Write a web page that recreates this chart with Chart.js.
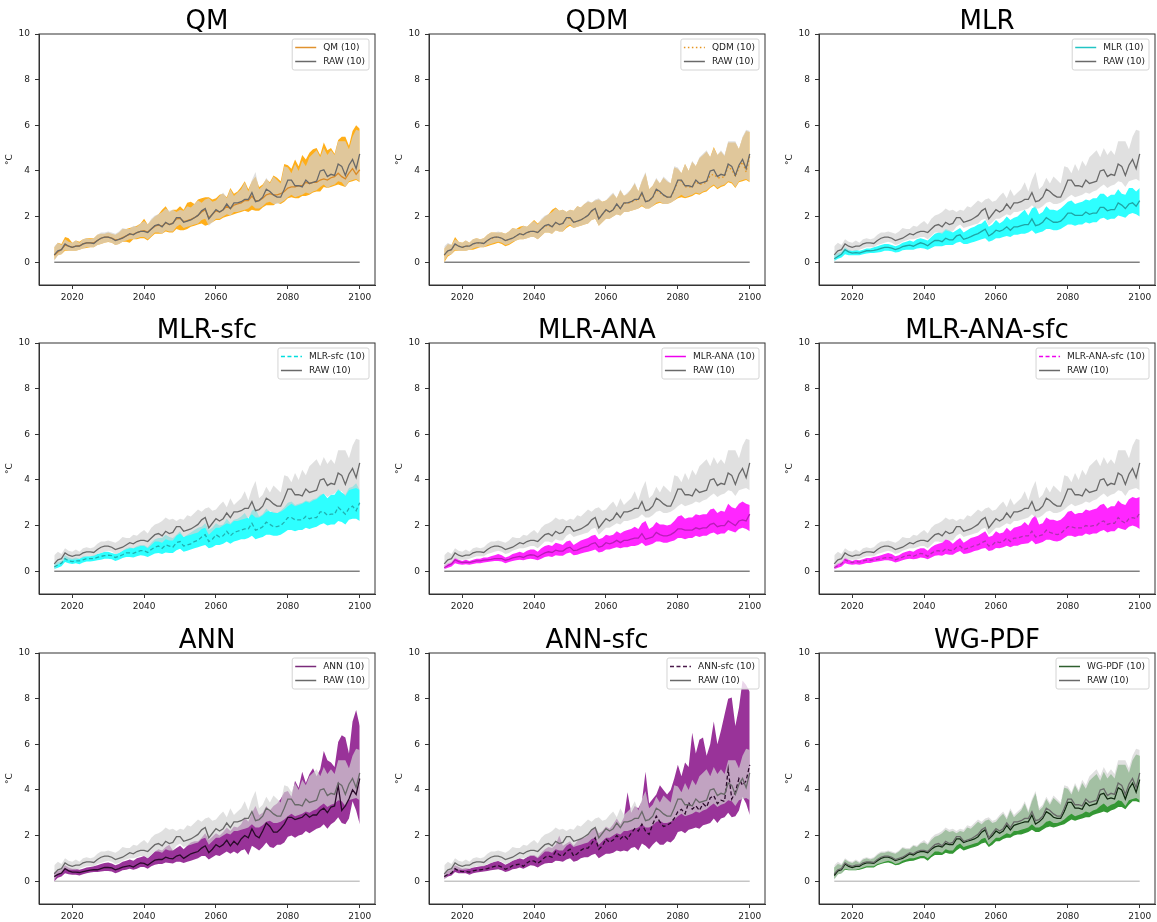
<!DOCTYPE html>
<html>
<head>
<meta charset="utf-8">
<script src="https://cdn.jsdelivr.net/npm/chart.js@4.4.1/dist/chart.umd.min.js"></script>
<style>
  html, body { margin: 0; padding: 0; background: #fff; overflow: hidden; }
  #wrap { position: relative; width: 1157px; height: 922px; }
  #wrap canvas { position: absolute; }
</style>
</head>
<body>
<div id="wrap"></div>
<script>
// years 2015..2100 (x categories)
const years = [];
for (let y = 2015; y <= 2100; y++) years.push(y);

const xTicks = [2020, 2040, 2060, 2080, 2100];
const yTicks = [0, 2, 4, 6, 8, 10];
const baseline = [0, 0];

// RAW ensemble (shown in every panel)
const rawMean = [0.32,0.5,0.55,0.8,0.7,0.65,0.7,0.7,0.8,0.85,
  0.85,0.82,0.95,1.05,1.1,1.1,1.05,0.95,1.0,1.05,
  1.15,1.25,1.2,1.3,1.35,1.35,1.3,1.45,1.6,1.65,
  1.55,1.75,1.65,1.7,1.95,1.95,1.75,1.8,1.85,1.95,
  2.05,2.25,2.35,1.9,2.1,2.3,2.2,2.3,2.55,2.35,
  2.6,2.6,2.65,2.75,2.75,3.05,2.65,2.7,2.85,3.2,
  3.1,2.95,2.85,2.85,3.2,3.6,3.6,3.35,3.35,3.3,
  3.6,3.45,3.5,3.55,4.0,4.05,3.75,3.85,3.8,4.3,
  4.2,3.8,4.25,4.5,4.1,4.75];
const rawHi = [0.7,0.85,0.75,1.0,0.9,0.85,0.95,0.85,1.0,1.05,
  1.0,1.05,1.2,1.3,1.3,1.35,1.3,1.25,1.35,1.5,
  1.45,1.45,1.6,1.55,1.7,1.8,1.65,1.9,2.05,2.1,
  2.2,2.35,2.25,2.3,2.2,2.3,2.25,2.45,2.4,2.55,
  2.7,2.6,2.75,2.8,2.65,2.7,2.9,3.05,2.8,3.2,
  2.9,3.05,3.2,3.5,3.1,3.6,3.95,3.2,3.35,3.7,
  3.45,3.75,3.6,3.45,4.2,4.15,3.9,4.3,4.0,4.45,
  4.2,4.6,4.75,4.9,4.6,5.0,4.7,4.9,4.7,5.3,
  5.3,5.3,4.95,5.5,5.8,5.75];
const rawLo = [0.05,0.3,0.35,0.55,0.5,0.5,0.5,0.55,0.6,0.65,
  0.65,0.65,0.75,0.8,0.85,0.9,0.85,0.75,0.8,0.9,
  0.95,1.0,1.0,1.05,1.1,1.1,1.0,1.15,1.3,1.3,
  1.25,1.4,1.35,1.35,1.55,1.65,1.5,1.55,1.6,1.65,
  1.7,1.85,1.9,1.6,1.75,1.9,1.9,2.0,2.1,2.05,
  2.2,2.2,2.25,2.3,2.35,2.5,2.35,2.35,2.45,2.6,
  2.65,2.55,2.55,2.6,2.7,2.85,2.95,2.85,2.9,2.95,
  3.05,3.0,3.1,3.15,3.3,3.4,3.25,3.35,3.4,3.55,
  3.5,3.3,3.55,3.6,3.65,3.55];

// QM
const qmMean = [0.3,0.45,0.55,0.75,0.7,0.65,0.7,0.72,0.8,0.85,
  0.85,0.85,0.95,1.05,1.1,1.1,1.05,0.98,1.0,1.08,
  1.15,1.22,1.22,1.3,1.35,1.38,1.32,1.45,1.58,1.62,
  1.58,1.72,1.65,1.72,1.9,1.92,1.78,1.82,1.88,1.95,
  2.05,2.2,2.3,1.95,2.1,2.25,2.2,2.3,2.45,2.35,
  2.5,2.55,2.6,2.7,2.7,2.9,2.7,2.7,2.8,2.95,
  3.0,2.95,2.95,3.0,3.1,3.25,3.3,3.3,3.35,3.35,
  3.5,3.45,3.5,3.5,3.6,3.65,3.6,3.7,3.75,3.9,
  3.75,3.65,3.9,4.1,3.85,4.05];
const qmHi = [0.65,0.85,0.8,1.1,1.05,0.85,0.95,0.9,1.0,1.05,
  1.05,1.05,1.2,1.25,1.25,1.3,1.25,1.2,1.3,1.45,
  1.45,1.5,1.55,1.6,1.7,1.9,1.65,1.85,2.0,2.1,
  2.3,2.45,2.2,2.3,2.3,2.45,2.3,2.6,2.65,2.55,
  2.75,2.8,2.85,2.85,2.75,2.8,2.95,3.0,2.85,3.25,
  3.0,3.1,3.3,3.55,3.2,3.55,3.75,3.3,3.4,3.65,
  3.5,3.8,3.7,3.55,4.3,4.25,4.1,4.5,4.2,4.7,
  4.5,4.8,4.95,5.0,4.7,5.25,4.9,5.0,4.75,5.35,
  5.5,5.5,5.1,5.75,6.0,5.85];
const qmLo = [0.1,0.3,0.35,0.5,0.5,0.5,0.5,0.55,0.6,0.62,
  0.65,0.65,0.75,0.8,0.85,0.88,0.85,0.75,0.8,0.9,
  0.9,0.85,1.0,1.0,1.05,1.05,0.95,1.1,1.25,1.25,
  1.25,1.35,1.3,1.3,1.45,1.4,1.4,1.45,1.55,1.6,
  1.65,1.7,1.6,1.65,1.75,1.85,1.85,1.95,2.0,2.05,
  2.1,2.15,2.2,2.25,2.2,2.3,2.25,2.25,2.4,2.5,
  2.5,2.5,2.6,2.55,2.65,2.8,2.85,2.8,2.8,2.9,
  2.9,2.95,3.05,3.1,3.1,3.3,3.25,3.3,3.35,3.4,
  3.35,3.3,3.5,3.55,3.6,3.5];

// QDM
const qdmMean = [0.3,0.5,0.55,0.78,0.7,0.65,0.7,0.7,0.8,0.85,
  0.85,0.82,0.95,1.03,1.1,1.1,1.05,0.95,1.0,1.05,
  1.15,1.25,1.2,1.3,1.35,1.35,1.3,1.45,1.58,1.62,
  1.55,1.72,1.65,1.7,1.92,1.92,1.75,1.8,1.85,1.95,
  2.05,2.22,2.32,1.9,2.1,2.28,2.2,2.3,2.5,2.35,
  2.58,2.58,2.62,2.72,2.72,3.0,2.65,2.7,2.82,3.15,
  3.05,2.92,2.85,2.85,3.15,3.55,3.55,3.3,3.3,3.28,
  3.55,3.4,3.45,3.5,3.8,3.85,3.7,3.7,3.75,4.2,
  4.05,3.75,4.15,4.4,3.95,4.65];
const qdmHi = [0.6,0.8,0.75,1.1,0.9,0.85,0.95,0.85,1.0,1.05,
  1.0,1.05,1.2,1.3,1.3,1.3,1.3,1.25,1.35,1.5,
  1.45,1.55,1.6,1.55,1.7,1.85,1.7,1.85,2.0,2.1,
  2.3,2.4,2.25,2.3,2.2,2.3,2.25,2.45,2.4,2.55,
  2.65,2.6,2.7,2.75,2.65,2.7,2.85,3.0,2.8,3.15,
  2.9,3.0,3.2,3.45,3.1,3.55,3.9,3.2,3.35,3.65,
  3.45,3.7,3.55,3.45,4.15,4.1,3.9,4.3,4.0,4.4,
  4.2,4.55,4.7,4.85,4.6,5.05,4.7,4.85,4.65,5.25,
  5.25,5.25,4.95,5.45,5.75,5.7];
const qdmLo = [0.0,0.25,0.35,0.5,0.5,0.5,0.5,0.55,0.55,0.6,
  0.65,0.65,0.7,0.75,0.8,0.85,0.8,0.7,0.75,0.85,
  0.95,1.0,1.0,1.05,1.1,1.1,1.0,1.15,1.3,1.3,
  1.25,1.4,1.35,1.35,1.5,1.6,1.5,1.55,1.6,1.65,
  1.7,1.85,1.9,1.6,1.75,1.9,1.9,2.0,2.1,2.05,
  2.2,2.2,2.25,2.3,2.35,2.45,2.35,2.35,2.45,2.55,
  2.6,2.55,2.55,2.6,2.7,2.8,2.85,2.8,2.85,2.9,
  3.0,2.95,3.05,3.1,3.25,3.35,3.2,3.3,3.35,3.5,
  3.45,3.25,3.5,3.55,3.6,3.5];

// MLR
const mlrMean = [0.15,0.25,0.35,0.55,0.45,0.4,0.42,0.4,0.45,0.5,
  0.5,0.52,0.55,0.6,0.65,0.65,0.62,0.55,0.6,0.68,
  0.72,0.75,0.7,0.78,0.85,0.8,0.72,0.85,0.95,0.95,
  0.9,1.05,0.98,0.98,1.15,1.2,1.0,1.05,1.12,1.2,
  1.25,1.35,1.45,1.15,1.25,1.4,1.35,1.42,1.55,1.4,
  1.55,1.55,1.6,1.65,1.65,1.9,1.6,1.65,1.75,1.95,
  1.85,1.75,1.75,1.8,1.95,2.15,2.15,2.05,2.05,2.05,
  2.2,2.1,2.15,2.15,2.4,2.4,2.25,2.3,2.3,2.6,
  2.5,2.35,2.55,2.6,2.45,2.7];
const mlrHi = [0.3,0.4,0.45,0.65,0.55,0.5,0.55,0.5,0.55,0.6,
  0.6,0.65,0.7,0.75,0.8,0.8,0.75,0.7,0.75,0.85,
  0.9,0.95,0.9,1.0,1.05,1.0,0.95,1.1,1.25,1.3,
  1.3,1.45,1.4,1.3,1.4,1.5,1.3,1.4,1.5,1.55,
  1.65,1.7,1.85,1.55,1.65,1.85,1.7,1.8,2.0,1.85,
  1.95,2.0,2.15,2.3,2.05,2.35,2.45,2.1,2.2,2.45,
  2.3,2.3,2.25,2.35,2.5,2.65,2.7,2.55,2.6,2.65,
  2.75,2.7,2.8,2.8,3.0,3.0,2.85,2.95,2.95,3.2,
  3.0,2.95,3.25,3.25,3.1,3.25];
const mlrLo = [0.05,0.15,0.2,0.35,0.3,0.3,0.3,0.3,0.35,0.38,
  0.4,0.4,0.42,0.45,0.5,0.5,0.48,0.42,0.45,0.52,
  0.55,0.55,0.55,0.6,0.62,0.6,0.55,0.62,0.7,0.7,
  0.7,0.75,0.75,0.75,0.85,0.9,0.8,0.8,0.85,0.9,
  0.95,1.0,1.05,0.9,0.95,1.05,1.05,1.1,1.15,1.1,
  1.2,1.2,1.25,1.25,1.3,1.4,1.25,1.3,1.35,1.45,
  1.45,1.4,1.4,1.45,1.55,1.65,1.65,1.6,1.65,1.65,
  1.75,1.7,1.75,1.75,1.9,1.95,1.85,1.9,1.9,2.05,
  2.0,1.95,2.1,2.15,2.1,2.0];

// MLR-sfc
const mlrSfcMean = [0.18,0.28,0.35,0.55,0.45,0.42,0.45,0.45,0.5,0.55,
  0.55,0.55,0.6,0.65,0.68,0.7,0.68,0.6,0.65,0.72,
  0.8,0.8,0.78,0.85,0.9,0.9,0.82,0.95,1.05,1.1,
  1.0,1.15,1.1,1.05,1.25,1.3,1.1,1.15,1.2,1.3,
  1.35,1.5,1.6,1.3,1.4,1.6,1.5,1.55,1.75,1.55,
  1.7,1.75,1.8,1.85,1.85,2.1,1.8,1.85,1.95,2.15,
  2.05,1.95,1.95,2.0,2.15,2.35,2.35,2.25,2.25,2.25,
  2.4,2.3,2.35,2.35,2.6,2.6,2.45,2.5,2.5,2.8,
  2.65,2.5,2.75,2.85,2.65,3.0];
const mlrSfcHi = [0.3,0.4,0.45,0.7,0.6,0.55,0.6,0.55,0.65,0.65,
  0.65,0.7,0.75,0.8,0.85,0.85,0.8,0.75,0.8,0.9,
  1.0,1.05,1.0,1.1,1.15,1.15,1.05,1.25,1.4,1.45,
  1.45,1.6,1.5,1.45,1.6,1.75,1.5,1.6,1.7,1.8,
  1.9,1.95,2.1,1.8,1.9,2.1,2.0,2.05,2.3,2.1,
  2.25,2.3,2.4,2.55,2.3,2.65,2.75,2.4,2.5,2.75,
  2.6,2.6,2.55,2.65,2.8,3.0,3.05,2.9,2.95,3.0,
  3.1,3.05,3.15,3.2,3.35,3.4,3.2,3.35,3.35,3.6,
  3.45,3.35,3.65,3.7,3.85,3.55];
const mlrSfcLo = [0.1,0.15,0.22,0.4,0.35,0.32,0.35,0.3,0.38,0.42,
  0.42,0.45,0.48,0.5,0.55,0.55,0.52,0.45,0.5,0.58,
  0.62,0.62,0.6,0.65,0.7,0.68,0.62,0.7,0.78,0.8,
  0.75,0.82,0.8,0.8,0.92,0.98,0.85,0.9,0.95,1.0,
  1.05,1.1,1.15,1.0,1.05,1.15,1.15,1.2,1.3,1.2,
  1.3,1.35,1.4,1.4,1.45,1.55,1.4,1.45,1.5,1.6,
  1.6,1.55,1.55,1.6,1.7,1.8,1.8,1.75,1.8,1.8,
  1.9,1.85,1.9,1.95,2.05,2.1,2.0,2.05,2.05,2.2,
  2.15,2.05,2.25,2.3,2.3,2.2];

// MLR-ANA
const mlrAnaMean = [0.15,0.25,0.32,0.5,0.42,0.38,0.4,0.38,0.42,0.45,
  0.45,0.48,0.5,0.52,0.55,0.55,0.55,0.48,0.52,0.58,
  0.62,0.65,0.6,0.68,0.72,0.7,0.62,0.72,0.8,0.85,
  0.82,0.92,0.88,0.88,1.0,1.05,0.9,0.92,1.0,1.05,
  1.1,1.2,1.25,1.05,1.1,1.25,1.2,1.25,1.35,1.25,
  1.35,1.35,1.4,1.45,1.45,1.65,1.4,1.45,1.5,1.7,
  1.6,1.55,1.55,1.6,1.7,1.85,1.85,1.8,1.8,1.8,
  1.9,1.85,1.9,1.9,2.05,2.1,1.95,2.0,2.0,2.2,
  2.1,2.0,2.2,2.25,2.2,2.5];
const mlrAnaHi = [0.25,0.35,0.4,0.6,0.5,0.45,0.5,0.45,0.5,0.55,
  0.55,0.6,0.6,0.65,0.7,0.75,0.7,0.6,0.65,0.75,
  0.8,0.85,0.8,0.9,0.95,0.95,0.85,1.0,1.1,1.15,
  1.1,1.25,1.2,1.15,1.3,1.35,1.15,1.25,1.35,1.4,
  1.45,1.55,1.6,1.4,1.45,1.6,1.55,1.6,1.75,1.65,
  1.75,1.8,1.85,1.95,1.85,2.1,2.2,1.85,1.95,2.15,
  2.05,2.05,2.0,2.05,2.2,2.4,2.45,2.3,2.35,2.35,
  2.5,2.45,2.5,2.5,2.7,2.75,2.55,2.65,2.6,2.95,
  2.8,2.75,2.95,3.05,2.95,2.9];
const mlrAnaLo = [0.08,0.15,0.2,0.35,0.3,0.28,0.3,0.28,0.32,0.35,
  0.35,0.38,0.4,0.42,0.45,0.45,0.42,0.35,0.4,0.45,
  0.48,0.5,0.48,0.52,0.55,0.52,0.48,0.55,0.62,0.65,
  0.62,0.7,0.68,0.68,0.78,0.82,0.7,0.72,0.78,0.82,
  0.85,0.9,0.95,0.82,0.85,0.95,0.95,1.0,1.05,1.0,
  1.05,1.05,1.1,1.1,1.15,1.25,1.1,1.15,1.2,1.3,
  1.3,1.25,1.25,1.3,1.35,1.45,1.45,1.4,1.45,1.45,
  1.55,1.5,1.55,1.55,1.65,1.7,1.6,1.65,1.65,1.8,
  1.75,1.7,1.85,1.9,1.85,1.75];

// MLR-ANA-sfc
const mlrAnaSfcMean = [0.15,0.25,0.32,0.5,0.42,0.38,0.42,0.4,0.45,0.48,
  0.48,0.5,0.52,0.55,0.58,0.6,0.58,0.5,0.55,0.62,
  0.68,0.7,0.65,0.72,0.78,0.75,0.65,0.78,0.88,0.9,
  0.85,0.98,0.92,0.9,1.05,1.1,0.95,1.0,1.05,1.12,
  1.15,1.25,1.32,1.1,1.15,1.3,1.25,1.3,1.45,1.3,
  1.45,1.45,1.5,1.55,1.55,1.75,1.5,1.55,1.6,1.8,
  1.7,1.65,1.6,1.65,1.8,1.95,1.95,1.9,1.9,1.9,
  2.0,1.95,2.0,2.0,2.15,2.2,2.05,2.1,2.1,2.35,
  2.2,2.1,2.3,2.35,2.3,2.55];
const mlrAnaSfcHi = [0.25,0.35,0.4,0.6,0.5,0.45,0.5,0.48,0.52,0.58,
  0.58,0.62,0.65,0.7,0.75,0.8,0.75,0.65,0.7,0.8,
  0.85,0.9,0.85,0.95,1.0,1.0,0.9,1.05,1.15,1.2,
  1.25,1.4,1.35,1.2,1.35,1.45,1.25,1.35,1.45,1.5,
  1.55,1.65,1.75,1.5,1.55,1.75,1.65,1.7,1.9,1.75,
  1.9,1.95,2.0,2.15,2.0,2.3,2.45,2.05,2.1,2.35,
  2.25,2.25,2.2,2.25,2.4,2.6,2.65,2.5,2.55,2.55,
  2.7,2.65,2.7,2.75,2.9,2.95,2.75,2.85,2.85,3.1,
  2.95,2.9,3.15,3.25,3.2,3.25];
const mlrAnaSfcLo = [0.08,0.15,0.2,0.35,0.3,0.28,0.3,0.28,0.32,0.36,
  0.36,0.4,0.42,0.45,0.48,0.48,0.45,0.38,0.42,0.48,
  0.52,0.55,0.52,0.55,0.6,0.58,0.52,0.6,0.68,0.7,
  0.68,0.75,0.72,0.72,0.82,0.88,0.75,0.78,0.82,0.88,
  0.92,0.98,1.02,0.88,0.92,1.02,1.0,1.05,1.12,1.05,
  1.12,1.12,1.18,1.2,1.22,1.35,1.18,1.22,1.28,1.38,
  1.38,1.32,1.3,1.35,1.45,1.55,1.55,1.5,1.55,1.55,
  1.65,1.6,1.65,1.65,1.75,1.8,1.7,1.75,1.75,1.9,
  1.85,1.8,1.95,2.0,1.95,1.85];

// ANN
const annMean = [0.2,0.3,0.35,0.55,0.45,0.4,0.4,0.38,0.42,0.45,
  0.48,0.5,0.5,0.55,0.6,0.6,0.58,0.5,0.55,0.62,
  0.65,0.68,0.62,0.72,0.8,0.78,0.7,0.82,0.92,0.95,
  0.95,1.05,1.0,0.98,1.1,1.15,1.0,1.1,1.2,1.25,
  1.3,1.45,1.55,1.25,1.4,1.6,1.5,1.6,1.8,1.55,
  1.75,1.6,1.85,2.0,1.9,2.3,2.0,1.9,2.2,2.55,
  2.4,2.15,2.15,2.3,2.5,2.8,2.8,2.7,2.75,2.8,
  2.95,2.8,2.9,2.9,3.1,3.2,3.0,3.25,3.3,4.2,
  3.1,3.3,3.6,4.0,3.8,4.5];
const annHi = [0.4,0.45,0.5,0.7,0.6,0.55,0.55,0.5,0.55,0.6,
  0.62,0.65,0.7,0.75,0.8,0.82,0.78,0.7,0.75,0.85,
  0.9,0.95,0.9,1.0,1.05,1.1,1.0,1.15,1.3,1.4,
  1.35,1.5,1.6,1.35,1.45,1.55,1.4,1.55,1.7,1.75,
  1.75,1.9,2.1,1.8,1.95,2.1,2.0,2.15,2.35,2.2,
  2.4,2.35,2.5,2.8,2.6,3.0,3.3,2.9,3.0,3.3,
  3.1,3.3,3.4,3.6,3.9,3.95,3.7,4.4,4.1,4.8,
  4.3,4.7,4.95,4.6,4.9,5.7,5.3,5.2,5.0,6.1,
  6.4,6.3,5.6,7.0,7.5,6.8];
const annLo = [0.0,0.15,0.2,0.35,0.3,0.28,0.28,0.25,0.3,0.35,
  0.38,0.4,0.4,0.42,0.45,0.45,0.42,0.35,0.4,0.48,
  0.5,0.55,0.5,0.55,0.62,0.62,0.55,0.65,0.72,0.75,
  0.75,0.82,0.8,0.78,0.85,0.85,0.8,0.85,0.9,0.95,
  1.0,1.1,1.1,0.95,1.05,1.15,1.1,1.2,1.3,1.2,
  1.3,1.2,1.35,1.4,1.15,1.55,1.45,1.35,1.5,1.7,
  1.5,1.45,1.6,1.6,1.7,1.95,2.0,1.9,2.0,2.05,
  2.2,2.1,2.2,2.3,2.35,2.5,2.3,2.5,2.6,2.8,
  2.55,2.5,2.75,3.5,3.1,2.5];

// ANN-sfc
const annSfcMean = [0.2,0.3,0.35,0.55,0.45,0.42,0.42,0.4,0.45,0.48,
  0.5,0.52,0.55,0.6,0.65,0.68,0.62,0.52,0.58,0.68,
  0.72,0.75,0.65,0.8,0.9,0.88,0.78,0.9,1.05,1.1,
  1.05,1.3,1.15,1.1,1.3,1.4,1.1,1.2,1.35,1.45,
  1.45,1.65,1.9,1.4,1.55,1.85,1.7,1.8,2.0,1.85,
  2.0,1.85,2.1,2.3,2.2,2.5,2.2,2.05,2.5,2.85,
  2.6,2.4,2.45,2.55,2.75,3.05,3.15,2.95,3.45,3.15,
  3.3,3.1,3.4,3.25,3.65,3.75,3.4,3.55,3.5,4.9,
  3.6,3.9,4.5,4.2,4.4,5.1];
const annSfcHi = [0.35,0.45,0.5,0.7,0.62,0.55,0.58,0.55,0.6,0.62,
  0.65,0.68,0.72,0.8,0.85,0.88,0.82,0.72,0.8,0.9,
  0.95,1.0,0.95,1.05,1.15,1.15,1.05,1.25,1.4,1.5,
  1.45,1.6,2.0,1.55,1.65,1.75,1.55,1.75,1.9,1.9,
  2.0,2.2,2.4,2.1,2.2,2.4,2.3,2.5,2.75,2.5,
  2.8,3.9,3.0,3.3,3.2,3.5,4.8,3.4,3.6,3.8,
  4.2,4.0,3.8,4.0,4.5,5.1,4.6,5.2,5.0,6.5,
  5.6,6.2,6.3,5.5,6.0,7.0,6.0,6.6,7.3,8.0,
  8.05,6.8,7.6,8.8,8.6,8.3];
const annSfcLo = [0.1,0.2,0.25,0.4,0.35,0.35,0.35,0.28,0.35,0.38,
  0.4,0.42,0.45,0.48,0.5,0.52,0.48,0.4,0.45,0.52,
  0.55,0.6,0.55,0.62,0.7,0.68,0.6,0.7,0.78,0.8,
  0.8,0.9,0.88,0.85,0.95,1.0,0.85,0.9,1.0,1.05,
  1.05,1.15,1.2,1.0,1.1,1.2,1.2,1.25,1.35,1.3,
  1.35,1.3,1.45,1.5,1.35,1.65,1.55,1.4,1.6,1.75,
  1.6,1.6,1.75,1.7,1.85,2.15,2.2,2.1,2.25,2.3,
  2.35,2.3,2.45,2.5,2.55,2.75,2.55,2.75,2.8,3.0,
  2.8,2.85,3.1,3.7,3.4,2.9];

// WG-PDF
const wgMean = [0.25,0.45,0.5,0.75,0.65,0.6,0.65,0.65,0.75,0.8,
  0.8,0.78,0.9,1.0,1.05,1.05,1.0,0.9,0.95,1.0,
  1.1,1.2,1.15,1.25,1.3,1.3,1.25,1.4,1.5,1.55,
  1.5,1.65,1.6,1.6,1.85,1.85,1.7,1.75,1.8,1.85,
  1.95,2.15,2.25,1.85,2.0,2.2,2.1,2.2,2.45,2.25,
  2.45,2.5,2.55,2.6,2.6,2.9,2.5,2.6,2.75,3.05,
  2.95,2.8,2.75,2.75,3.05,3.45,3.45,3.2,3.2,3.15,
  3.45,3.3,3.35,3.4,3.8,3.85,3.6,3.65,3.6,4.1,
  4.0,3.6,4.05,4.3,3.9,4.45];
const wgHi = [0.6,0.75,0.7,0.95,0.85,0.8,0.9,0.8,0.95,1.0,
  0.95,1.0,1.15,1.25,1.25,1.3,1.25,1.2,1.3,1.45,
  1.4,1.4,1.55,1.5,1.65,1.7,1.6,1.8,1.95,2.0,
  2.1,2.25,2.15,2.2,2.1,2.2,2.15,2.35,2.3,2.45,
  2.6,2.5,2.65,2.7,2.55,2.6,2.8,2.95,2.7,3.1,
  2.8,2.95,3.1,3.4,3.0,3.5,3.85,3.1,3.25,3.6,
  3.35,3.65,3.5,3.35,4.1,4.05,3.8,4.2,3.9,4.3,
  4.05,4.4,4.55,4.7,4.4,4.8,4.5,4.7,4.5,5.1,
  5.1,5.1,4.75,5.3,5.55,5.5];
const wgLo = [0.1,0.3,0.35,0.5,0.48,0.48,0.48,0.5,0.55,0.6,
  0.6,0.6,0.7,0.75,0.8,0.82,0.78,0.7,0.72,0.8,
  0.85,0.88,0.9,0.95,1.0,1.0,0.9,1.05,1.15,1.15,
  1.15,1.25,1.2,1.2,1.35,1.45,1.35,1.4,1.45,1.5,
  1.55,1.65,1.7,1.5,1.6,1.75,1.75,1.85,1.9,1.9,
  2.0,2.05,2.05,2.1,2.15,2.25,2.15,2.15,2.25,2.35,
  2.4,2.35,2.4,2.45,2.5,2.6,2.7,2.65,2.7,2.75,
  2.8,2.8,2.9,2.95,3.0,3.05,3.0,3.1,3.15,3.25,
  3.25,3.15,3.35,3.5,3.5,3.45];

const FONT = '"DejaVu Sans", "Liberation Sans", sans-serif';

const panels = [
  { title: 'QM', label: 'QM (10)', mean: qmMean, hi: qmHi, lo: qmLo,
    line: '#d98a28', legend: '#e0922e', band: 'rgba(255,165,0,0.9)', dash: [], zero: '#444' },
  { title: 'QDM', label: 'QDM (10)', mean: qdmMean, hi: qdmHi, lo: qdmLo,
    line: '#e69520', legend: '#e69520', band: 'rgba(255,165,0,0.9)', dash: [1.5, 2.5], zero: '#444' },
  { title: 'MLR', label: 'MLR (10)', mean: mlrMean, hi: mlrHi, lo: mlrLo,
    line: '#1fa5a5', legend: '#22c4c4', band: 'rgba(0,255,255,0.82)', dash: [], zero: '#444' },
  { title: 'MLR-sfc', label: 'MLR-sfc (10)', mean: mlrSfcMean, hi: mlrSfcHi, lo: mlrSfcLo,
    line: '#20b0b0', legend: '#00dede', band: 'rgba(0,255,255,0.82)', dash: [4, 2.5], zero: '#444' },
  { title: 'MLR-ANA', label: 'MLR-ANA (10)', mean: mlrAnaMean, hi: mlrAnaHi, lo: mlrAnaLo,
    line: '#b81cb8', legend: '#ee00ee', band: 'rgba(255,0,255,0.85)', dash: [], zero: '#444' },
  { title: 'MLR-ANA-sfc', label: 'MLR-ANA-sfc (10)', mean: mlrAnaSfcMean, hi: mlrAnaSfcHi, lo: mlrAnaSfcLo,
    line: '#b030b0', legend: '#ee00ee', band: 'rgba(255,0,255,0.85)', dash: [4, 2.5], zero: '#444' },
  { title: 'ANN', label: 'ANN (10)', mean: annMean, hi: annHi, lo: annLo,
    line: '#2a0a2a', legend: '#7a2a7a', band: 'rgba(128,0,128,0.8)', dash: [], zero: '#aaa' },
  { title: 'ANN-sfc', label: 'ANN-sfc (10)', mean: annSfcMean, hi: annSfcHi, lo: annSfcLo,
    line: '#2a0a2a', legend: '#4a1a4a', band: 'rgba(128,0,128,0.8)', dash: [4, 2.5], zero: '#aaa' },
  { title: 'WG-PDF', label: 'WG-PDF (10)', mean: wgMean, hi: wgHi, lo: wgLo,
    line: '#102a10', legend: '#2f5f2f', band: 'rgba(30,140,30,0.9)', dash: [], zero: '#aaa' }
];

const xy = arr => arr.map((v, i) => ({ x: years[i], y: v }));

// title, frame and in-axes legend
const decor = {
  id: 'decor',
  afterDraw(chart, args, o) {
    const { ctx, chartArea: a } = chart;
    ctx.save();
    ctx.strokeStyle = '#333';
    ctx.lineWidth = 1;
    ctx.strokeRect(a.left, a.top, a.right - a.left, a.bottom - a.top);

    ctx.fillStyle = '#000';
    ctx.font = '26px ' + FONT;
    ctx.textAlign = 'center';
    ctx.textBaseline = 'alphabetic';
    ctx.fillText(o.title, (a.left + a.right) / 2, 28.5);

    ctx.font = '9px ' + FONT;
    const tw = Math.max(ctx.measureText(o.label).width, ctx.measureText('RAW (10)').width);
    const bw = 3 + 21 + 7 + tw + 4;
    const bx = a.right - 6 - bw, by = a.top + 5, bh = 31;
    ctx.beginPath();
    ctx.roundRect(bx, by, bw, bh, 2);
    ctx.fillStyle = 'rgba(255,255,255,0.8)';
    ctx.fill();
    ctx.strokeStyle = '#d4d4d4';
    ctx.stroke();

    const rows = [
      { y: by + 8.5, color: o.legend, dash: o.dash, text: o.label },
      { y: by + 22.5, color: '#696969', dash: [], text: 'RAW (10)' }
    ];
    rows.forEach(r => {
      ctx.beginPath();
      ctx.setLineDash(r.dash);
      ctx.strokeStyle = r.color;
      ctx.lineWidth = 1.5;
      ctx.moveTo(bx + 3, r.y);
      ctx.lineTo(bx + 24, r.y);
      ctx.stroke();
      ctx.setLineDash([]);
      ctx.fillStyle = '#222';
      ctx.textAlign = 'left';
      ctx.textBaseline = 'middle';
      ctx.fillText(r.text, bx + 31, r.y + 0.5);
    });
    ctx.restore();
  }
};

const wrap = document.getElementById('wrap');
const colX = [0, 390, 780];
const rowY = [0, 309, 619];

panels.forEach((p, k) => {
  const cv = document.createElement('canvas');
  cv.width = 377;
  cv.height = 303;
  cv.style.left = colX[k % 3] + 'px';
  cv.style.top = rowY[Math.floor(k / 3)] + 'px';
  wrap.appendChild(cv);

  const zero = baseline.map((v, i) => ({ x: i === 0 ? years[0] : years[years.length - 1], y: v }));

  new Chart(cv.getContext('2d'), {
    type: 'line',
    data: {
      datasets: [
        { data: xy(rawMean), borderColor: '#696969', borderWidth: 1.3, pointRadius: 0, fill: false },
        { data: xy(p.mean), borderColor: p.line, borderWidth: 1.3, borderDash: p.dash, pointRadius: 0, fill: false },
        { data: xy(rawHi), borderWidth: 0, borderColor: 'rgba(0,0,0,0)', pointRadius: 0,
          fill: '+1', backgroundColor: 'rgba(211,211,211,0.7)' },
        { data: xy(rawLo), borderWidth: 0, borderColor: 'rgba(0,0,0,0)', pointRadius: 0, fill: false },
        { data: xy(p.hi), borderWidth: 0, borderColor: 'rgba(0,0,0,0)', pointRadius: 0,
          fill: '+1', backgroundColor: p.band },
        { data: xy(p.lo), borderWidth: 0, borderColor: 'rgba(0,0,0,0)', pointRadius: 0, fill: false },
        { data: zero, borderColor: p.zero, borderWidth: 1, pointRadius: 0, fill: false }
      ]
    },
    options: {
      responsive: false,
      animation: false,
      layout: { padding: { top: 34, right: 2, bottom: 0, left: 0 } },
      plugins: {
        legend: { display: false },
        tooltip: { enabled: false },
        decor: { title: p.title, label: p.label, legend: p.legend, dash: p.dash }
      },
      scales: {
        x: {
          type: 'linear', min: 2010.75, max: 2104.25,
          afterBuildTicks: s => { s.ticks = xTicks.map(v => ({ value: v })); },
          afterFit: s => { s.height = 18; },
          ticks: { callback: v => String(v), font: { family: FONT, size: 9 }, color: '#222',
                   padding: 3, maxRotation: 0, autoSkip: false },
          grid: { drawOnChartArea: false, tickLength: 4, color: '#333' },
          border: { color: '#333' }
        },
        y: {
          min: -1, max: 10,
          afterBuildTicks: s => { s.ticks = yTicks.map(v => ({ value: v })); },
          afterFit: s => { s.width = 39; },
          title: { display: true, text: '°C', font: { family: FONT, size: 9 }, color: '#222',
                   padding: { top: 4, bottom: 0 } },
          ticks: { font: { family: FONT, size: 9 }, color: '#222', padding: 5, autoSkip: false },
          grid: { drawOnChartArea: false, tickLength: 4, color: '#333' },
          border: { color: '#333' }
        }
      }
    },
    plugins: [decor]
  });
});
</script>
</body>
</html>
